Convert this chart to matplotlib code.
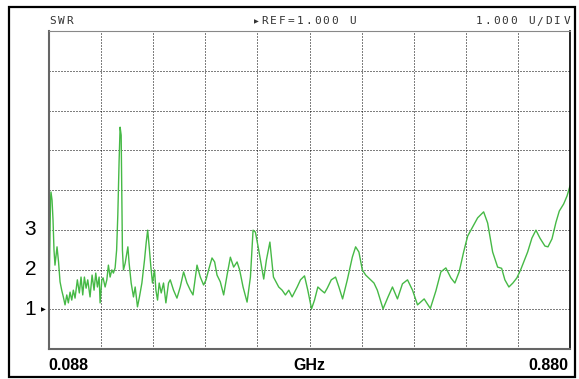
import matplotlib
matplotlib.use("Agg")
import matplotlib.pyplot as plt
from matplotlib.patches import Rectangle

# trace: frequency (GHz) and SWR
freq_ghz = [
    0.0880, 0.0888, 0.0903, 0.0910, 0.0926, 0.0941, 0.0956, 0.0971, 0.0987, 0.1002,
    0.1025, 0.1048, 0.1073, 0.1098, 0.1124, 0.1150, 0.1174, 0.1200, 0.1226, 0.1250,
    0.1276, 0.1311, 0.1341, 0.1367, 0.1393, 0.1418, 0.1444, 0.1469, 0.1504, 0.1535,
    0.1565, 0.1591, 0.1616, 0.1642, 0.1657, 0.1683, 0.1702, 0.1733, 0.1759, 0.1783,
    0.1809, 0.1835, 0.1859, 0.1885, 0.1908, 0.1926, 0.1946, 0.1961, 0.1977, 0.1987,
    0.1996, 0.2012, 0.2038, 0.2079, 0.2098, 0.2129, 0.2164, 0.2190, 0.2225, 0.2255,
    0.2292, 0.2332, 0.2357, 0.2380, 0.2403, 0.2429, 0.2453, 0.2484, 0.2505, 0.2530,
    0.2555, 0.2586, 0.2621, 0.2657, 0.2697, 0.2723, 0.2773, 0.2825, 0.2875, 0.2926,
    0.2977, 0.3028, 0.3069, 0.3130, 0.3180, 0.3230, 0.3267, 0.3306, 0.3358, 0.3398,
    0.3434, 0.3484, 0.3535, 0.3587, 0.3637, 0.3687, 0.3739, 0.3778, 0.3830, 0.3891,
    0.3942, 0.3982, 0.4018, 0.4068, 0.4120, 0.4144, 0.4185, 0.4238, 0.4292, 0.4372,
    0.4424, 0.4474, 0.4525, 0.4576, 0.4653, 0.4703, 0.4764, 0.4814, 0.4871, 0.4916,
    0.4967, 0.5018, 0.5069, 0.5110, 0.5171, 0.5236, 0.5287, 0.5343, 0.5415, 0.5491,
    0.5541, 0.5591, 0.5643, 0.5694, 0.5770, 0.5820, 0.5871, 0.5958, 0.6034, 0.6101,
    0.6177, 0.6253, 0.6330, 0.6406, 0.6482, 0.6583, 0.6677, 0.6761, 0.6837, 0.6913,
    0.6989, 0.7050, 0.7115, 0.7183, 0.7244, 0.7320, 0.7396, 0.7487, 0.7548, 0.7624,
    0.7700, 0.7761, 0.7810, 0.7871, 0.7932, 0.7993, 0.8054, 0.8156, 0.8221, 0.8282,
    0.8343, 0.8419, 0.8465, 0.8526, 0.8587, 0.8637, 0.8704, 0.8755, 0.8800,
]
swr = [
    1.48, 2.11, 3.75, 3.95, 3.75, 3.25, 2.49, 2.11, 2.36, 2.57,
    2.19, 1.69, 1.48, 1.31, 1.11, 1.36, 1.16, 1.43, 1.23, 1.48,
    1.28, 1.74, 1.41, 1.81, 1.36, 1.81, 1.53, 1.74, 1.31, 1.86,
    1.48, 1.91, 1.56, 1.81, 1.16, 1.74, 1.79, 1.56, 1.74, 2.11,
    1.81, 1.99, 1.91, 2.04, 2.49, 3.37, 4.75, 5.58, 5.38, 3.75,
    2.49, 1.99, 2.16, 2.57, 2.16, 1.66, 1.31, 1.56, 1.06, 1.31,
    1.66, 2.24, 2.67, 2.99, 2.57, 2.06, 1.66, 1.99, 1.48, 1.23,
    1.66, 1.41, 1.66, 1.16, 1.66, 1.74, 1.48, 1.28, 1.56, 1.94,
    1.66, 1.48, 1.36, 2.11, 1.81, 1.61, 1.74, 1.99, 2.29, 2.19,
    1.86, 1.69, 1.36, 1.86, 2.31, 2.06, 2.19, 1.99, 1.56, 1.18,
    1.81, 2.99, 2.94, 2.49, 1.99, 1.76, 2.24, 2.69, 1.81, 1.56,
    1.48, 1.36, 1.48, 1.31, 1.56, 1.74, 1.84, 1.48, 1.01, 1.23,
    1.56, 1.48, 1.41, 1.53, 1.74, 1.81, 1.56, 1.26, 1.74, 2.31,
    2.57, 2.44, 1.99, 1.86, 1.74, 1.66, 1.48, 1.01, 1.31, 1.56,
    1.26, 1.64, 1.74, 1.48, 1.11, 1.26, 1.02, 1.46, 1.94, 2.04,
    1.79, 1.66, 1.94, 2.44, 2.84, 3.07, 3.30, 3.45, 3.17, 2.44,
    2.06, 2.03, 1.74, 1.56, 1.66, 1.79, 2.01, 2.44, 2.79, 2.99,
    2.79, 2.59, 2.57, 2.77, 3.19, 3.47, 3.65, 3.85, 4.10,
]

f_start, f_stop = 0.088, 0.880
n_xdiv, n_ydiv = 10, 8
y_labels = ["1", "2", "3"]
header_left = "SWR"
header_mid = "REF=1.000 U"
header_right = "1.000 U/DIV"

fig = plt.figure(figsize=(5.79, 3.79), dpi=100)
W, H = 579.0, 379.0

# outer black frame
fig.patches.append(Rectangle((9 / W, 2 / H), 566 / W, 370 / H, transform=fig.transFigure,
                             fill=False, edgecolor="black", linewidth=1.6))

ax = fig.add_axes([49 / W, 30 / H, 521 / W, 318 / H])
ax.plot(freq_ghz, swr, color="#46b946", linewidth=1.0, solid_joinstyle="round")
ax.set_xlim(f_start, f_stop)
ax.set_ylim(0, n_ydiv)

step = (f_stop - f_start) / n_xdiv
for i in range(1, n_xdiv):
    ax.axvline(f_start + i * step, color="black", linewidth=0.72, linestyle=(0, (1, 2)), zorder=0)
for j in range(1, n_ydiv):
    ax.axhline(j, color="black", linewidth=0.72, linestyle=(0, (1, 2)), zorder=0)

ax.set_xticks([])
ax.set_yticks([])
ax.spines["left"].set_color("#666666")
ax.spines["left"].set_linewidth(1.5)
ax.spines["bottom"].set_color("#666666")
ax.spines["bottom"].set_linewidth(1.5)
ax.spines["top"].set_color("#888888")
ax.spines["top"].set_linewidth(0.8)
ax.spines["right"].set_color("black")
ax.spines["right"].set_linewidth(1.2)


def spaced_text(x_px, text, align="left"):
    # screen font has wide, fixed character pitch
    pitch = 8.8
    if align == "right":
        x_px = x_px - pitch * len(text)
    for k, ch in enumerate(text):
        fig.text((x_px + k * pitch + pitch / 2) / W, 1 - 21.5 / H, ch, ha="center", va="center",
                 fontsize=8, color="#333333", family=["DejaVu Sans Mono", "DejaVu Sans"])


spaced_text(48, header_left)
spaced_text(260, header_mid)
spaced_text(571, header_right, align="right")
fig.text(256 / W, 1 - 21.5 / H, "\u25b6", ha="center", va="center", fontsize=4.5, color="#333333")

# y labels, one per division above the reference line
for k, lab in enumerate(y_labels):
    y_px = 309.25 - k * 39.75
    fig.text(36 / W, 1 - y_px / H, lab, ha="right", va="center", fontsize=15,
             family="Liberation Sans", color="black")
fig.text(43 / W, 1 - 309.5 / H, "\u25b6", ha="center", va="center", fontsize=4.5, color="black")

fig.text(48 / W, 1 - 365 / H, "0.088", ha="left", va="center", fontsize=11.5,
         fontweight="bold", family="Liberation Sans")
fig.text(309 / W, 1 - 365 / H, "GHz", ha="center", va="center", fontsize=11.5,
         fontweight="bold", family="Liberation Sans")
fig.text(568 / W, 1 - 365 / H, "0.880", ha="right", va="center", fontsize=11.5,
         fontweight="bold", family="Liberation Sans")

plt.savefig("out.png", dpi=100)
